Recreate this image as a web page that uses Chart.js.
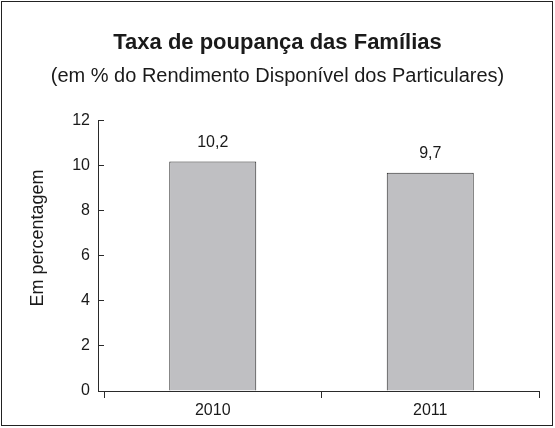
<!DOCTYPE html>
<html>
<head>
<meta charset="utf-8">
<script src="https://cdn.jsdelivr.net/npm/chart.js@4/dist/chart.umd.min.js"></script>
<style>
  html, body { margin: 0; padding: 0; background: #fff; }
  #wrap { position: relative; width: 555px; height: 428px; }
  canvas { display: block; }
</style>
</head>
<body>
<div id="wrap"><canvas id="c" width="555" height="428"></canvas></div>
<script>
const categories = ['2010', '2011'];
const savingsRate = [10.2, 9.7];
const yTicks = [0, 2, 4, 6, 8, 10, 12];
const titleText = 'Taxa de poupança das Famílias';
const subtitleText = '(em % do Rendimento Disponível dos Particulares)';
const yAxisTitle = 'Em percentagem';

const FONT = "Arial, 'Liberation Sans', Helvetica, sans-serif";
const INK = '#1a1a1a';
const AXIS = '#2a2a2a';

const frame = {
  id: 'frame',
  beforeDraw(chart) {
    const ctx = chart.ctx;
    ctx.save();
    ctx.fillStyle = '#fff';
    ctx.fillRect(0, 0, chart.width, chart.height);
    ctx.strokeStyle = '#222';
    ctx.lineWidth = 1;
    ctx.strokeRect(1.5, 1.5, chart.width - 4, chart.height - 4);
    ctx.restore();
  },
  afterDraw(chart) {
    const ctx = chart.ctx;
    const a = chart.chartArea;
    const yLen = chart.options.scales.y.grid.tickLength;
    const ax = Math.round(a.left - yLen) + 0.5;
    ctx.save();
    ctx.strokeStyle = AXIS;
    ctx.lineWidth = 1;
    ctx.beginPath();
    ctx.moveTo(ax, a.top);
    ctx.lineTo(ax, Math.round(a.bottom) + 0.5);
    ctx.lineTo(a.left, Math.round(a.bottom) + 0.5);
    ctx.stroke();
    // y-axis title
    ctx.fillStyle = INK;
    ctx.font = '18px ' + FONT;
    ctx.textAlign = 'center';
    ctx.textBaseline = 'middle';
    ctx.translate(38, 238);
    ctx.rotate(-Math.PI / 2);
    ctx.fillText(yAxisTitle, 0, 0);
    ctx.restore();
  }
};

const valueLabels = {
  id: 'valueLabels',
  afterDatasetsDraw(chart) {
    const ctx = chart.ctx;
    const meta = chart.getDatasetMeta(0);
    ctx.save();
    ctx.font = '16px ' + FONT;
    ctx.fillStyle = INK;
    ctx.textAlign = 'center';
    ctx.textBaseline = 'middle';
    meta.data.forEach((bar, i) => {
      const v = chart.data.datasets[0].data[i];
      ctx.fillText(v.toFixed(1).replace('.', ','), bar.x, bar.y - 19);
    });
    ctx.restore();
  }
};

new Chart(document.getElementById('c'), {
  type: 'bar',
  data: {
    labels: categories,
    datasets: [{
      data: savingsRate,
      backgroundColor: '#bfbfc2',
      borderColor: '#2a2a2a',
      borderWidth: 1,
      borderSkipped: 'bottom',
      barPercentage: 0.4,
      categoryPercentage: 1.0,
      yAxisID: 'y'
    }]
  },
  options: {
    responsive: false,
    animation: false,
    devicePixelRatio: 1,
    layout: { padding: { left: 0, right: 0, top: 0, bottom: 0 } },
    plugins: {
      legend: { display: false },
      tooltip: { enabled: false },
      title: {
        display: true,
        text: titleText,
        color: INK,
        font: { family: FONT, size: 22, weight: 'bold' },
        padding: { top: 30, bottom: 0 }
      },
      subtitle: {
        display: true,
        text: subtitleText,
        color: INK,
        font: { family: FONT, size: 20 },
        padding: { top: 8, bottom: 32.5 }
      }
    },
    scales: {
      x: {
        type: 'category',
        offset: true,
        afterFit(s) { s.height = 37; },
        grid: {
          offset: true,
          drawOnChartArea: false,
          drawTicks: true,
          tickLength: 7,
          color: AXIS
        },
        border: { display: true, color: AXIS, width: 1 },
        ticks: { color: INK, font: { family: FONT, size: 16 }, padding: 3 }
      },
      y: {
        position: 'left',
        min: 0,
        max: 12,
        afterFit(s) { s.width = 104; },
        afterBuildTicks(s) { s.ticks = yTicks.map(v => ({ value: v })); },
        grid: {
          drawOnChartArea: false,
          drawTicks: true,
          tickLength: 6,
          color: AXIS
        },
        border: { display: false },
        ticks: { color: INK, font: { family: FONT, size: 16 }, padding: 8 }
      },
      yRight: {
        position: 'right',
        display: true,
        afterFit(s) { s.width = 16; },
        grid: { display: false, drawTicks: false },
        border: { display: false },
        ticks: { display: false }
      }
    }
  },
  plugins: [frame, valueLabels]
});
</script>
</body>
</html>
